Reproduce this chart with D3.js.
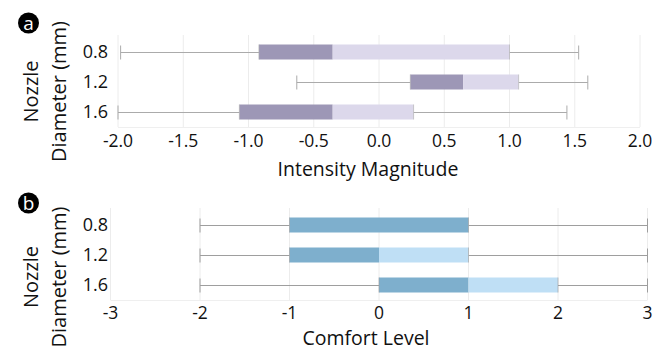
<!DOCTYPE html>
<html><head><meta charset="utf-8">
<script src="https://cdn.jsdelivr.net/npm/d3@7"></script>
<style>
html,body{margin:0;padding:0;background:#fff;}
svg{display:block;font-family:"Open Sans",sans-serif;}
</style></head>
<body><svg id="chart" width="663" height="351"></svg>
<script>
// ---- data ----
const nozzleDiameters = ["0.8", "1.2", "1.6"];

const intensityLow    = [-1.98, -0.63, -2.00];
const intensityQ1     = [-0.92,  0.24, -1.07];
const intensityMedian = [-0.355, 0.645, -0.355];
const intensityQ3     = [ 1.00,  1.07,  0.265];
const intensityHigh   = [ 1.53,  1.60,  1.44];
const intensityTicks  = [-2.0, -1.5, -1.0, -0.5, 0.0, 0.5, 1.0, 1.5, 2.0];

const comfortLow    = [-2, -2, -2];
const comfortQ1     = [-1, -1,  0];
const comfortMedian = [ 1,  0,  1];
const comfortQ3     = [ 1,  1,  2];
const comfortHigh   = [ 3,  3,  3];
const comfortTicks  = [-3, -2, -1, 0, 1, 2, 3];

const svg = d3.select("#chart");

function drawPanel(opt) {
  const g = svg.append("g");
  const x = d3.scaleLinear().domain(opt.domain).range(opt.xRange);
  const y = d3.scaleBand().domain(nozzleDiameters).range(opt.yRange)
              .paddingInner(0.5).paddingOuter(0.25);
  const top = opt.yRange[0] - 2, bottom = opt.yRange[1];

  // grid
  g.selectAll("line.grid").data(opt.ticks).join("line")
    .attr("x1", d => x(d)).attr("x2", d => x(d))
    .attr("y1", top).attr("y2", bottom)
    .attr("stroke", "#ececec").attr("stroke-width", 1);
  g.append("line").attr("x1", opt.xRange[0]).attr("x2", opt.xRange[1])
    .attr("y1", bottom + 0.5).attr("y2", bottom + 0.5)
    .attr("stroke", "#efefef");

  const data = nozzleDiameters.map((k, i) => ({
    k, low: opt.low[i], q1: opt.q1[i], med: opt.med[i], q3: opt.q3[i], high: opt.high[i]
  }));

  const rows = g.selectAll("g.row").data(data).join("g");
  const cy = d => Math.round(y(d.k) + y.bandwidth() / 2) + 0.5;
  // whiskers
  rows.append("line")
    .attr("x1", d => x(d.low)).attr("x2", d => x(d.q1))
    .attr("y1", cy).attr("y2", cy)
    .attr("stroke", opt.whisker).attr("stroke-width", 1);
  rows.append("line")
    .attr("x1", d => x(d.q3)).attr("x2", d => x(d.high))
    .attr("y1", cy).attr("y2", cy)
    .attr("stroke", opt.whisker).attr("stroke-width", 1);
  // caps
  ["low", "high"].forEach(f => {
    rows.append("line")
      .attr("x1", d => x(d[f])).attr("x2", d => x(d[f]))
      .attr("y1", d => cy(d) - 7).attr("y2", d => cy(d) + 7)
      .attr("stroke", opt.whisker).attr("stroke-width", 1);
  });
  // boxes
  rows.append("rect")
    .attr("x", d => x(d.q1)).attr("width", d => x(d.med) - x(d.q1))
    .attr("y", d => y(d.k)).attr("height", y.bandwidth())
    .attr("fill", opt.dark);
  rows.append("rect")
    .attr("x", d => x(d.med)).attr("width", d => x(d.q3) - x(d.med))
    .attr("y", d => y(d.k)).attr("height", y.bandwidth())
    .attr("fill", opt.light);
  // faint box edges
  ["q1", "q3"].forEach(f => {
    rows.append("line")
      .attr("x1", d => x(d[f])).attr("x2", d => x(d[f]))
      .attr("y1", d => y(d.k)).attr("y2", d => y(d.k) + y.bandwidth())
      .attr("stroke", opt.whisker).attr("stroke-opacity", 0.6);
  });

  // x tick labels
  g.selectAll("text.xt").data(opt.ticks).join("text")
    .attr("x", d => x(d)).attr("y", bottom + opt.tickDy)
    .attr("text-anchor", "middle").attr("font-size", 17.5).attr("fill", "#111")
    .text(opt.fmt);
  // y tick labels
  g.selectAll("text.yt").data(nozzleDiameters).join("text")
    .attr("x", 108).attr("y", d => y(d) + y.bandwidth() / 2)
    .attr("dy", "0.36em")
    .attr("text-anchor", "end").attr("font-size", 18).attr("fill", "#111")
    .text(d => d);
  // x title
  g.append("text").attr("x", opt.titleX).attr("y", bottom + opt.titleDy)
    .attr("text-anchor", "middle").attr("font-size", 19.5).attr("fill", "#111")
    .text(opt.title);
  // y title
  const yt = g.append("text")
    .attr("transform", `translate(0,${opt.yTitleY}) rotate(-90)`)
    .attr("text-anchor", "middle").attr("font-size", 20).attr("fill", "#111");
  yt.append("tspan").attr("x", 0).attr("y", 38).text("Nozzle");
  yt.append("tspan").attr("x", 0).attr("y", 66).text("Diameter (mm)");
  // panel letter
  g.append("circle").attr("cx", 28.5).attr("cy", opt.letterY).attr("r", 10.5).attr("fill", "#000");
  g.append("text").attr("x", 28.5).attr("y", opt.letterY).attr("dy", "0.36em")
    .attr("text-anchor", "middle").attr("font-size", 19).attr("fill", "#fff")
    .text(opt.letter);
}

drawPanel({
  domain: [-2, 2], xRange: [118, 640], yRange: [37, 127],
  ticks: intensityTicks, fmt: d => d.toFixed(1),
  low: intensityLow, q1: intensityQ1, med: intensityMedian, q3: intensityQ3, high: intensityHigh,
  dark: "#9d97b6", light: "#dcd8eb", whisker: "#ababab",
  tickDy: 20, titleDy: 48.5, title: "Intensity Magnitude", titleX: 368,
  yTitleY: 91.5, letter: "a", letterY: 23
});

drawPanel({
  domain: [-3, 3], xRange: [110.5, 647.5], yRange: [210, 300],
  ticks: comfortTicks, fmt: d => String(d),
  low: comfortLow, q1: comfortQ1, med: comfortMedian, q3: comfortQ3, high: comfortHigh,
  dark: "#7eafcd", light: "#bfdff5", whisker: "#9e9e9e",
  tickDy: 19, titleDy: 45.3, title: "Comfort Level", titleX: 366,
  yTitleY: 277, letter: "b", letterY: 203
});
</script>
</body></html>
